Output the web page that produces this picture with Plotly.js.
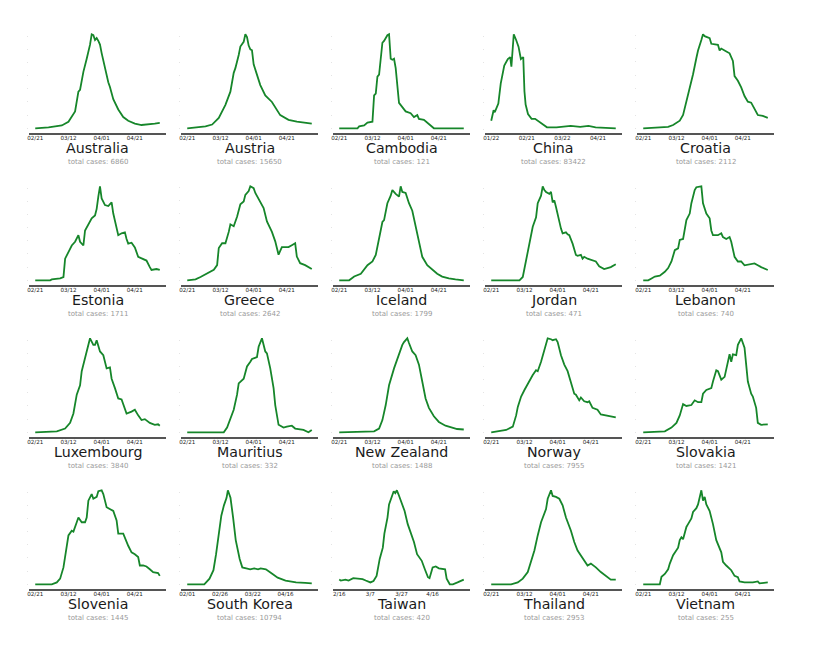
<!DOCTYPE html>
<html>
<head>
<meta charset="utf-8">
<script src="https://cdn.plot.ly/plotly-3.0.1.min.js"></script>
<style>
  html, body { margin: 0; padding: 0; background: #fff; }
  #chart { width: 818px; height: 651px; }
</style>
</head>
<body>
<div id="chart"></div>
<script>
// countries in grid order (5 columns x 4 rows)
var countries = ['Australia', 'Austria', 'Cambodia', 'China', 'Croatia',
                 'Estonia', 'Greece', 'Iceland', 'Jordan', 'Lebanon',
                 'Luxembourg', 'Mauritius', 'New Zealand', 'Norway', 'Slovakia',
                 'Slovenia', 'South Korea', 'Taiwan', 'Thailand', 'Vietnam'];
var totals = [6860, 15650, 121, 83422, 2112,
              1711, 2642, 1799, 471, 740,
              3840, 332, 1488, 7955, 1421,
              1445, 10794, 420, 2953, 255];

// tick days (days since the first day of each series) and their labels
var stdTickDays = [0, 20, 40, 60];
var stdTickText = ['02/21', '03/12', '04/01', '04/21'];
var chinaTickDays = [0, 30, 60, 90];
var chinaTickText = ['01/22', '02/21', '03/22', '04/21'];
var koreaTickDays = [0, 25, 50, 75];
var koreaTickText = ['02/01', '02/26', '03/22', '04/16'];
var taiwanTickDays = [0, 20, 40, 60];
var taiwanTickText = ['2/16', '3/7', '3/27', '4/16'];

// relative daily new cases (peak = 1)
var australiaX = [0, 8, 16, 20, 24, 26, 27, 29, 31, 33, 34, 35, 36, 37, 38, 39, 40, 42, 44, 45, 47, 50, 53, 56, 60, 64, 68, 72, 75];
var australiaY = [0, 0.01, 0.03, 0.07, 0.18, 0.39, 0.41, 0.60, 0.74, 0.89, 1.0, 0.99, 0.94, 0.96, 0.93, 0.89, 0.80, 0.64, 0.49, 0.44, 0.31, 0.20, 0.12, 0.08, 0.05, 0.035, 0.046, 0.05, 0.057];

var austriaX = [0, 11, 15, 19, 23, 26, 28, 29, 31, 32, 34, 35, 36, 37, 38, 39, 40, 42, 44, 47, 51, 56, 61, 66, 75];
var austriaY = [0, 0.02, 0.04, 0.11, 0.25, 0.39, 0.59, 0.64, 0.78, 0.87, 0.92, 1.0, 0.97, 0.88, 0.84, 0.83, 0.68, 0.57, 0.46, 0.35, 0.28, 0.14, 0.09, 0.07, 0.05];

var cambodiaX = [0, 11, 12, 15, 17, 20, 21, 22, 23, 24, 26, 27, 29, 30, 31, 32, 33, 34, 36, 38, 40, 43, 45, 47, 48, 51, 54, 57, 75];
var cambodiaY = [0, 0, 0.02, 0.03, 0.06, 0.07, 0.35, 0.37, 0.55, 0.57, 0.91, 0.93, 0.99, 1.0, 0.74, 0.73, 0.74, 0.64, 0.27, 0.23, 0.18, 0.16, 0.12, 0.14, 0.10, 0.09, 0.04, 0, 0];

var chinaX = [0, 2, 3, 6, 8, 11, 14, 16, 17, 18, 19, 21, 23, 25, 27, 28, 29, 31, 34, 37, 41, 47, 55, 67, 75, 82, 88, 105];
var chinaY = [0.09, 0.20, 0.18, 0.27, 0.48, 0.67, 0.74, 0.76, 0.66, 0.80, 1.0, 0.94, 0.87, 0.74, 0.76, 0.40, 0.26, 0.16, 0.11, 0.11, 0.07, 0.02, 0.02, 0.035, 0.025, 0.035, 0.02, 0.01];

var croatiaX = [0, 8, 15, 18, 22, 24, 26, 28, 30, 32, 33, 35, 36, 37, 39, 40, 41, 44, 45, 46, 47, 49, 50, 52, 54, 55, 57, 59, 61, 63, 65, 67, 69, 72, 75];
var croatiaY = [0, 0.01, 0.015, 0.035, 0.08, 0.14, 0.28, 0.43, 0.57, 0.74, 0.82, 0.93, 0.99, 0.97, 0.96, 0.95, 0.89, 0.88, 0.88, 0.82, 0.84, 0.82, 0.81, 0.79, 0.71, 0.55, 0.50, 0.43, 0.34, 0.28, 0.27, 0.21, 0.14, 0.13, 0.11];

var estoniaX = [0, 9, 10, 15, 17, 18, 20, 22, 24, 26, 27, 29, 30, 32, 34, 36, 37, 38, 39, 40, 42, 44, 46, 47, 49, 50, 52, 54, 55, 56, 58, 60, 62, 65, 67, 69, 70, 73, 75];
var estoniaY = [0, 0, 0.01, 0.02, 0.035, 0.23, 0.30, 0.37, 0.41, 0.48, 0.41, 0.37, 0.53, 0.60, 0.66, 0.69, 0.76, 0.89, 1.0, 0.87, 0.80, 0.79, 0.83, 0.71, 0.55, 0.48, 0.50, 0.51, 0.44, 0.39, 0.40, 0.35, 0.25, 0.23, 0.21, 0.14, 0.11, 0.12, 0.11];

var greeceX = [0, 5, 8, 11, 14, 16, 18, 19, 21, 23, 25, 26, 28, 30, 32, 34, 35, 37, 38, 40, 41, 43, 44, 46, 48, 51, 53, 55, 57, 59, 61, 63, 65, 66, 68, 71, 73, 75];
var greeceY = [0, 0.01, 0.035, 0.06, 0.09, 0.11, 0.16, 0.34, 0.39, 0.39, 0.51, 0.59, 0.57, 0.67, 0.80, 0.83, 0.90, 0.94, 0.99, 0.97, 0.92, 0.85, 0.83, 0.76, 0.62, 0.51, 0.41, 0.27, 0.35, 0.35, 0.35, 0.37, 0.39, 0.25, 0.18, 0.16, 0.14, 0.12];

var icelandX = [0, 6, 9, 13, 17, 20, 22, 24, 26, 27, 29, 31, 32, 34, 36, 37, 38, 40, 42, 44, 46, 48, 50, 53, 56, 59, 62, 66, 70, 75];
var icelandY = [0, 0, 0.04, 0.07, 0.16, 0.20, 0.27, 0.44, 0.62, 0.64, 0.82, 0.90, 0.96, 0.92, 0.89, 1.0, 0.94, 0.93, 0.82, 0.74, 0.57, 0.41, 0.25, 0.16, 0.11, 0.07, 0.04, 0.02, 0.01, 0];

var jordanX = [0, 17, 19, 21, 23, 25, 27, 28, 30, 31, 32, 33, 35, 36, 37, 38, 39, 40, 42, 43, 45, 46, 47, 49, 51, 52, 54, 55, 56, 58, 61, 63, 65, 68, 70, 72, 75];
var jordanY = [0, 0, 0.035, 0.21, 0.41, 0.57, 0.67, 0.82, 0.90, 1.0, 0.96, 0.94, 0.92, 0.94, 0.83, 0.85, 0.78, 0.69, 0.55, 0.50, 0.51, 0.49, 0.48, 0.39, 0.27, 0.26, 0.27, 0.23, 0.25, 0.23, 0.21, 0.20, 0.15, 0.12, 0.13, 0.14, 0.17];

var lebanonX = [0, 3, 5, 7, 10, 13, 15, 17, 19, 21, 22, 24, 26, 28, 29, 30, 31, 32, 35, 36, 38, 40, 41, 42, 45, 47, 48, 50, 52, 53, 55, 57, 59, 61, 64, 67, 69, 71, 75];
var lebanonY = [0, 0, 0.02, 0.04, 0.05, 0.09, 0.13, 0.20, 0.32, 0.34, 0.43, 0.44, 0.64, 0.71, 0.82, 0.89, 0.96, 0.99, 1.0, 0.82, 0.71, 0.66, 0.53, 0.48, 0.48, 0.50, 0.46, 0.44, 0.46, 0.41, 0.25, 0.20, 0.20, 0.16, 0.17, 0.18, 0.16, 0.14, 0.11];

var luxembourgX = [0, 13, 18, 21, 23, 25, 27, 28, 30, 31, 33, 35, 36, 37, 39, 41, 43, 45, 46, 48, 50, 52, 54, 55, 58, 60, 62, 64, 66, 69, 72, 74, 75];
var luxembourgY = [0, 0.01, 0.04, 0.10, 0.20, 0.40, 0.50, 0.65, 0.79, 0.86, 1.0, 0.93, 0.93, 0.98, 0.86, 0.82, 0.68, 0.69, 0.57, 0.47, 0.36, 0.35, 0.26, 0.20, 0.22, 0.24, 0.18, 0.13, 0.14, 0.10, 0.08, 0.085, 0.07];

var mauritiusX = [0, 22, 24, 26, 28, 30, 31, 34, 36, 38, 39, 42, 43, 45, 47, 48, 50, 52, 53, 55, 58, 60, 63, 65, 70, 73, 75];
var mauritiusY = [0, 0, 0.05, 0.15, 0.24, 0.40, 0.52, 0.57, 0.70, 0.75, 0.78, 0.80, 0.91, 1.0, 0.86, 0.84, 0.68, 0.47, 0.29, 0.08, 0.05, 0.06, 0.07, 0.04, 0.025, 0, 0.025];

var newZealandX = [0, 13, 21, 24, 26, 28, 30, 33, 35, 36, 38, 39, 41, 42, 44, 46, 48, 50, 52, 54, 57, 60, 64, 68, 71, 75];
var newZealandY = [0, 0.01, 0.01, 0.04, 0.13, 0.29, 0.50, 0.68, 0.79, 0.82, 0.93, 0.96, 1.0, 0.95, 0.86, 0.82, 0.72, 0.54, 0.36, 0.26, 0.17, 0.11, 0.07, 0.05, 0.035, 0.03];

var norwayX = [0, 5, 9, 13, 15, 16, 18, 20, 22, 24, 25, 27, 28, 30, 32, 34, 36, 37, 39, 40, 42, 44, 46, 48, 50, 51, 53, 54, 56, 58, 59, 61, 64, 66, 69, 71, 75];
var norwayY = [0, 0.01, 0.025, 0.06, 0.18, 0.27, 0.38, 0.45, 0.52, 0.59, 0.61, 0.66, 0.65, 0.75, 0.89, 1.0, 0.99, 0.98, 0.99, 0.96, 0.82, 0.72, 0.65, 0.54, 0.41, 0.40, 0.34, 0.37, 0.33, 0.32, 0.33, 0.26, 0.24, 0.19, 0.18, 0.18, 0.16];

var slovakiaX = [0, 13, 17, 20, 22, 24, 26, 29, 31, 33, 35, 36, 38, 41, 42, 44, 45, 47, 49, 50, 52, 53, 54, 56, 57, 59, 61, 62, 63, 65, 66, 68, 69, 71, 74, 75];
var slovakiaY = [0, 0.01, 0.05, 0.10, 0.18, 0.30, 0.28, 0.29, 0.34, 0.32, 0.32, 0.41, 0.45, 0.47, 0.54, 0.66, 0.65, 0.56, 0.59, 0.68, 0.83, 0.75, 0.83, 0.82, 0.93, 1.0, 0.90, 0.72, 0.54, 0.41, 0.38, 0.26, 0.10, 0.08, 0.085, 0.085];

var sloveniaX = [0, 10, 13, 15, 17, 19, 20, 22, 23, 25, 26, 28, 30, 31, 32, 34, 35, 37, 38, 40, 41, 43, 45, 47, 49, 50, 53, 54, 56, 58, 60, 62, 63, 65, 67, 69, 71, 74, 75];
var sloveniaY = [0, 0, 0.02, 0.06, 0.18, 0.39, 0.52, 0.57, 0.56, 0.66, 0.71, 0.66, 0.66, 0.71, 0.89, 0.96, 0.91, 0.93, 0.99, 1.0, 0.96, 0.82, 0.80, 0.78, 0.68, 0.54, 0.54, 0.49, 0.41, 0.34, 0.32, 0.29, 0.20, 0.20, 0.19, 0.16, 0.13, 0.12, 0.09];

var southKoreaX = [0, 13, 17, 20, 22, 24, 26, 28, 30, 31, 33, 35, 37, 40, 42, 45, 48, 51, 54, 56, 60, 64, 69, 75, 83, 90, 95];
var southKoreaY = [0, 0, 0.06, 0.15, 0.32, 0.53, 0.73, 0.84, 0.92, 1.0, 0.92, 0.71, 0.47, 0.27, 0.18, 0.17, 0.16, 0.17, 0.16, 0.17, 0.16, 0.12, 0.07, 0.04, 0.02, 0.015, 0.01];

var taiwanX = [0, 1, 4, 6, 9, 12, 15, 17, 20, 22, 24, 26, 28, 29, 31, 32, 34, 35, 36, 37, 38, 40, 42, 44, 46, 48, 50, 53, 55, 57, 58, 60, 62, 64, 68, 69, 71, 73, 76, 80];
var taiwanY = [0.05, 0.04, 0.05, 0.04, 0.065, 0.06, 0.055, 0.04, 0.02, 0.035, 0.09, 0.27, 0.39, 0.54, 0.71, 0.85, 0.94, 0.99, 0.97, 1.0, 0.96, 0.88, 0.78, 0.64, 0.55, 0.45, 0.32, 0.25, 0.16, 0.075, 0.065, 0.18, 0.19, 0.17, 0.16, 0.06, 0, 0, 0.02, 0.05];

var thailandX = [0, 12, 16, 19, 22, 24, 26, 28, 30, 33, 34, 36, 37, 39, 41, 43, 45, 48, 50, 52, 54, 56, 58, 60, 63, 66, 69, 72, 75];
var thailandY = [0, 0, 0.02, 0.06, 0.13, 0.24, 0.36, 0.52, 0.66, 0.80, 0.91, 1.0, 0.94, 0.93, 0.91, 0.84, 0.71, 0.57, 0.45, 0.36, 0.31, 0.25, 0.20, 0.22, 0.18, 0.13, 0.09, 0.05, 0.05];

var vietnamX = [0, 10, 11, 13, 15, 16, 18, 21, 22, 23, 24, 26, 27, 29, 30, 32, 33, 35, 36, 37, 38, 40, 42, 44, 47, 48, 50, 53, 55, 57, 58, 61, 66, 69, 70, 75];
var vietnamY = [0, 0, 0.08, 0.11, 0.16, 0.22, 0.31, 0.39, 0.47, 0.50, 0.48, 0.61, 0.64, 0.70, 0.77, 0.81, 0.85, 1.0, 0.89, 0.93, 0.85, 0.78, 0.64, 0.47, 0.34, 0.24, 0.20, 0.15, 0.09, 0.075, 0.03, 0.02, 0.02, 0.03, 0.01, 0.02];

var seriesX = [australiaX, austriaX, cambodiaX, chinaX, croatiaX,
               estoniaX, greeceX, icelandX, jordanX, lebanonX,
               luxembourgX, mauritiusX, newZealandX, norwayX, slovakiaX,
               sloveniaX, southKoreaX, taiwanX, thailandX, vietnamX];
var seriesY = [australiaY, austriaY, cambodiaY, chinaY, croatiaY,
               estoniaY, greeceY, icelandY, jordanY, lebanonY,
               luxembourgY, mauritiusY, newZealandY, norwayY, slovakiaY,
               sloveniaY, southKoreaY, taiwanY, thailandY, vietnamY];

function ticksFor(name) {
  if (name == 'China') return [chinaTickDays, chinaTickText];
  if (name == 'South Korea') return [koreaTickDays, koreaTickText];
  if (name == 'Taiwan') return [taiwanTickDays, taiwanTickText];
  return [stdTickDays, stdTickText];
}

var W = 818, H = 651;
var left0 = 29, top0 = 29.6, pw = 137, ph = 103.4, pitch = 152;

var data = [];
var layout = {
  width: W, height: H,
  margin: {l: 0, r: 0, t: 0, b: 0},
  paper_bgcolor: '#fff', plot_bgcolor: '#fff',
  showlegend: false,
  font: {family: 'DejaVu Sans', color: '#222'},
  annotations: []
};

for (var i = 0; i < countries.length; i++) {
  var col = i % 5, row = Math.floor(i / 5);
  var n = i + 1;
  var xs = seriesX[i], ys = seriesY[i];
  var last = xs[xs.length - 1];
  var ymin = Math.min.apply(null, ys), ymax = Math.max.apply(null, ys);
  var pad = (ymax - ymin) * 0.05;

  data.push({
    x: xs, y: ys, type: 'scatter', mode: 'lines',
    xaxis: 'x' + n, yaxis: 'y' + n,
    line: {color: 'rgb(22,134,42)', width: 1.8},
    hoverinfo: 'skip'
  });

  var l = left0 + col * pitch;
  var t = top0 + row * pitch;
  var b = t + ph;
  var tk = ticksFor(countries[i]);

  layout['xaxis' + n] = {
    domain: [l / W, (l + pw) / W],
    anchor: 'y' + n,
    range: [-0.05 * last, 1.05 * last],
    showgrid: false, zeroline: false,
    showline: true, linecolor: '#555', linewidth: 1.5,
    tickmode: 'array', tickvals: tk[0], ticktext: tk[1],
    ticks: '', ticklabelstandoff: -1,
    tickfont: {size: 5.6, color: '#222', family: 'DejaVu Sans'},
    fixedrange: true
  };
  layout['yaxis' + n] = {
    domain: [1 - b / H, 1 - t / H],
    anchor: 'x' + n,
    range: [ymin - pad, ymax + pad],
    showgrid: false, zeroline: false, showline: false,
    showticklabels: false, ticks: 'outside', ticklen: 1.5,
    tickcolor: '#e4e4e4', dtick: 0.14,
    fixedrange: true
  };

  layout.annotations.push({
    text: countries[i], xref: 'paper', yref: 'paper',
    x: (l + pw / 2) / W, y: 1 - (b + 15.3) / H,
    xanchor: 'center', yanchor: 'middle', showarrow: false,
    font: {size: 14.2, color: '#1a1a1a', family: 'DejaVu Sans'}
  });
  layout.annotations.push({
    text: 'total cases: ' + totals[i], xref: 'paper', yref: 'paper',
    x: (l + pw / 2) / W, y: 1 - (b + 29.3) / H,
    xanchor: 'center', yanchor: 'middle', showarrow: false,
    font: {size: 7, color: '#999', family: 'DejaVu Sans'}
  });
}

Plotly.newPlot('chart', data, layout, {displayModeBar: false, staticPlot: true});
</script>
</body>
</html>
